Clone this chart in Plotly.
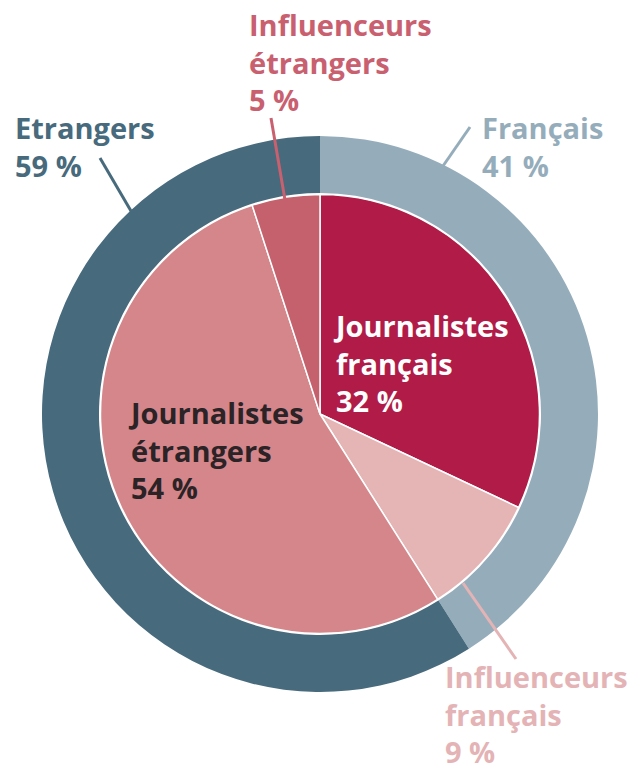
import plotly.graph_objects as go

# Data
outer_labels = ["Français", "Etrangers"]
outer_values = [41, 59]
outer_colors = ["#95adbb", "#476a7d"]

inner_labels = ["Journalistes français", "Influenceurs français",
                "Journalistes étrangers", "Influenceurs étrangers"]
inner_values = [32, 9, 54, 5]
inner_colors = ["#b01b47", "#e5b5b6", "#d4868b", "#c5616d"]

W, H = 628, 777
CX, CY = 320, 414
R_OUT, R_HOLE, R_IN = 278, 221, 219.5


def px(x):
    return x / W


def py(y):
    return 1 - y / H


def dom(r):
    return dict(x=[px(CX - r), px(CX + r)], y=[py(CY + r), py(CY - r)])


fig = go.Figure()
fig.add_trace(go.Pie(
    labels=outer_labels, values=outer_values, sort=False,
    direction="clockwise", rotation=0, hole=R_HOLE / R_OUT,
    marker=dict(colors=outer_colors, line=dict(width=0)),
    textinfo="none", hoverinfo="skip", domain=dom(R_OUT), showlegend=False,
))
fig.add_trace(go.Pie(
    labels=inner_labels, values=inner_values, sort=False,
    direction="clockwise", rotation=0,
    marker=dict(colors=inner_colors, line=dict(color="white", width=1.5)),
    textinfo="none", hoverinfo="skip", domain=dom(R_IN), showlegend=False,
))

FONT = "Open Sans"
FS = 29

labels = [
    # text, x_left, y_top, color
    ("Influenceurs<br>étrangers<br>5 %", 247, 3, "#c9606f"),
    ("Etrangers<br>59 %", 13, 106, "#476a7d"),
    ("Français<br>41 %", 480, 106, "#95adbb"),
    ("Journalistes<br>français<br>32 %", 331, 304, "#ffffff"),
    ("Journalistes<br>étrangers<br>54 %", 126, 391, "#2b2326"),
    ("Influenceurs<br>français<br>9 %", 443, 655, "#e4b3b5"),
]
for text, x, y, c in labels:
    fig.add_annotation(
        text=text, x=px(x), y=py(y), xref="paper", yref="paper",
        xanchor="left", yanchor="top", align="left", showarrow=False,
        font=dict(family=FONT, size=FS, color=c, weight="bold"),
    )

leaders = [
    ((271, 118), (285, 200), "#c9606f"),
    ((100, 158), (131, 211), "#476a7d"),
    ((470, 127), (443, 166), "#95adbb"),
    ((463, 583), (516, 659), "#e4b3b5"),
]
for (x0, y0), (x1, y1), c in leaders:
    fig.add_shape(type="line", xref="paper", yref="paper",
                  x0=px(x0), y0=py(y0), x1=px(x1), y1=py(y1),
                  line=dict(color=c, width=3))

fig.update_layout(
    width=W, height=H, margin=dict(l=0, r=0, t=0, b=0),
    paper_bgcolor="white", plot_bgcolor="white",
)
fig.write_html("out.html")
